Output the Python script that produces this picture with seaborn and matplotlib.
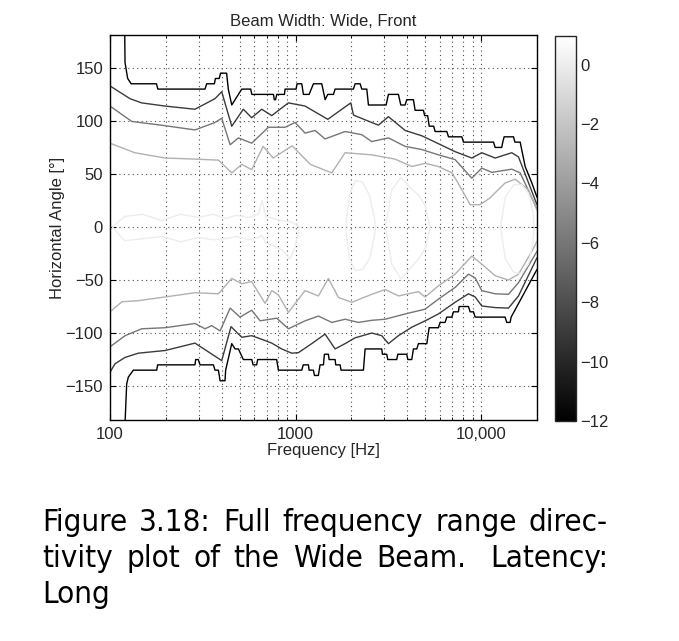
import numpy as np
import pandas as pd
import matplotlib
matplotlib.use("Agg")
import matplotlib.pyplot as plt
import matplotlib.ticker as mticker
from matplotlib.colors import Normalize
from matplotlib.cm import ScalarMappable
import seaborn as sns

# colour scale of the directivity map (dB re on-axis)
CMIN, CMAX = -12, 0.96
LEVELS = [-12, -9, -6, -3, 0]

# contour -12 dB (upper / lower branch), frequency in Hz, angle in degrees
UP12_F = [120, 120.5, 124.5, 130, 178, 181, 325, 332, 365, 370, 388, 394, 425, 434, 453, 472, 492, 513,
          573, 581, 760, 768, 780, 792, 871, 878, 1006, 1019, 1080, 1102, 1183, 1248, 1384, 1443, 1491,
          1600, 1633, 2050, 2094, 2228, 2274, 2420, 2470, 3077, 3164, 3584, 3689, 3891, 3974, 4316, 4407,
          4888, 4960, 5150, 5250, 5550, 5650, 6530, 6670, 7870, 8035, 11660, 11900, 12910, 13080, 13300,
          14940, 15200, 16230, 17270, 18760, 20000]
UP12_A = [185, 155, 140, 135, 135, 130, 130, 135, 135, 140, 140, 145, 145, 130, 115, 120, 125, 130,
          130, 125, 125, 120, 120, 125, 125, 130, 130, 135, 135, 125, 125, 135, 135, 120, 125,
          125, 130, 130, 135, 135, 130, 130, 115, 115, 125, 125, 115, 115, 120, 120, 110,
          110, 105, 105, 95, 95, 90, 90, 85, 85, 80, 80, 75, 75, 80, 85,
          85, 80, 80, 57, 41.5, 28]
LO12_F = [120.5, 123, 125.5, 133.6, 178.5, 180.6, 287, 289.6, 299, 305.6, 360.6, 368, 383.7, 388, 392,
          416.6, 420, 453, 472, 492, 523, 581, 590, 617, 625, 791, 808, 1080, 1100, 1173, 1183, 1248,
          1264, 1327, 1355, 1413, 1430, 1503, 1516, 1633, 1646, 1738, 1758, 2321, 2370, 2914, 2938,
          3099, 3140, 3510, 3556, 3974, 4024, 4228, 4316, 4500, 4595, 5097, 5245, 5888, 6010, 6393,
          6530, 6950, 7096, 7548, 7608, 8544, 8725, 9093, 9285, 13460, 13740, 14320, 14510, 20000]
LO12_A = [-185, -148, -141.6, -135, -135, -130, -130, -125, -125, -130, -130, -135, -135, -140, -145,
          -145, -135, -110, -115, -115, -125, -125, -130, -130, -125, -125, -135, -135, -130, -130, -135, -135,
          -140, -140, -130, -130, -120, -120, -125, -125, -130, -130, -135, -135, -115, -115, -120,
          -120, -125, -125, -120, -120, -125, -125, -115, -115, -110, -110, -95, -95, -90, -90,
          -85, -85, -80, -80, -75, -75, -80, -80, -85, -85, -90, -90, -85, -40]

# contour -9 dB
UP9_F = [100, 128, 148, 198, 287, 368, 400, 453, 523, 580, 657, 744, 915, 1125, 1491, 1984, 2051, 2574,
         2796, 3165, 3894, 4788, 5888, 7241, 8907, 10080, 11900, 14630, 15900, 20000]
UP9_A = [133, 121, 117, 114, 111, 121, 127.5, 95, 111, 103, 111, 105, 117, 114, 101.5, 117, 105.5, 98.5,
         96, 104, 91, 86, 78.5, 71, 65, 70, 65, 70, 66, 21]
LO9_F = [100, 106.4, 120.5, 142, 198, 287, 400, 449, 513, 580, 671, 744, 842, 953, 1036, 1222, 1442, 1633,
         1849, 2094, 2574, 2914, 3165, 3585, 4229, 4990, 5888, 7241, 8545, 9284, 10080, 11900, 14040,
         15900, 20000]
LO9_A = [-137, -129, -123, -119, -116.5, -109.5, -126, -94, -104, -102.5, -106.5, -109.5, -115, -119,
         -118.5, -110, -101, -115, -110, -104.5, -100, -102.5, -110, -102.5, -94.5, -88.5, -82, -71, -63,
         -66, -74.5, -76, -76.5, -65, -29]

# contour -6 dB
UP6_F = [100, 131, 198, 287, 368, 400, 444, 492, 580, 714, 878, 994, 1125, 1274, 1442, 1849, 2274, 2574,
         3165, 3894, 4788, 5888, 7241, 8907, 10080, 11420, 14630, 16230, 20000]
UP6_A = [114, 99.5, 95.5, 91.5, 98.5, 102.5, 77.5, 84, 79, 94, 94, 98.5, 88.5, 91, 83, 90, 87, 80.5,
         84, 76, 73, 68, 63.5, 46, 55.5, 51.5, 54.5, 51, 17]
LO6_F = [100, 120.5, 148, 198, 287, 325, 353, 392, 444, 502, 580, 644, 791, 915, 1125, 1328, 1567, 1849,
         2182, 2574, 3038, 3894, 4990, 5888, 7241, 8545, 9284, 10080, 11900, 14040, 15900, 20000]
LO6_A = [-113, -102.5, -96, -95, -91, -96, -93, -98, -76.5, -85, -78.5, -88.5, -86, -96, -88.5, -84,
         -90, -87, -90, -88, -87, -82, -77.5, -68, -57, -44.5, -48, -60, -63, -63.5, -52.5, -23]

# contour -3 dB
UP3_F = [100, 136, 198, 287, 384, 453, 513, 580, 669, 757, 958, 1202, 1567, 1849, 2574, 3440, 4229,
         4990, 5888, 6950, 7424, 8726, 9850, 11100, 13470, 15250, 18000, 20000]
UP3_A = [79, 70, 65, 64, 63, 51, 59, 54, 76, 65, 76.5, 59, 51, 70, 68, 64, 57,
         60, 57, 51, 43, 21, 21, 27, 41.5, 45, 35, 16]
LO3_F = [100, 116, 142, 198, 287, 384, 453, 513, 580, 685, 744, 808, 915, 1125, 1328, 1503, 1702, 2009,
         2574, 3038, 3585, 4595, 4990, 5888, 7241, 8907, 10080, 11900, 14040, 15900, 18760, 20000]
LO3_A = [-80, -70.5, -69.5, -66, -62, -63, -48.5, -53.5, -51.5, -72, -60, -64, -80.5, -60, -65, -48.5,
         -66.5, -71, -63.5, -59, -65, -61, -66, -55.5, -44.5, -27.5, -35, -46, -50, -44.5, -23, -13.5]

# closed 0 dB contours (frequency, upper edge, lower edge)
ZA_F = [103, 120, 150, 190, 240, 300, 360, 420, 480, 560, 630, 660, 690, 760, 850, 930, 990, 1050]
ZA_UP = [0, 10, 12, 6, 12, 9, 12, 8, 11, 9, 12, 25, 10, 8, 6, 5, 3, 0]
ZA_LO = [0, -13, -11, -9, -14, -10, -12, -11, -9, -12, -10, -8, -15, -18, -22, -30, -20, 0]
ZB_F = [1860, 1950, 2100, 2300, 2500, 2650, 2700]
ZB_UP = [0, 30, 44, 42, 30, 10, 0]
ZB_LO = [0, -30, -41, -40, -30, -10, 0]
ZC_F = [3050, 3300, 3700, 4100, 4600, 5000, 5300]
ZC_UP = [0, 35, 47, 38, 30, 20, 0]
ZC_LO = [0, -35, -49, -40, -30, -20, 0]
ZD_F = [12700, 13500, 15000, 16500, 18000, 19000, 19300]
ZD_UP = [0, 28, 40, 40, 32, 15, 0]
ZD_LO = [0, -30, -43, -44, -35, -15, 0]

CB_TICKS = [0, -2, -4, -6, -8, -10, -12]
X_TICKS = [100, 1000, 10000]
X_LABELS = ["100", "1000", "10,000"]
Y_TICKS = [-150, -100, -50, 0, 50, 100, 150]

# long table of all contour branches
branches = [
    ("up12", -12, UP12_F, UP12_A), ("lo12", -12, LO12_F, LO12_A),
    ("up9", -9, UP9_F, UP9_A), ("lo9", -9, LO9_F, LO9_A),
    ("up6", -6, UP6_F, UP6_A), ("lo6", -6, LO6_F, LO6_A),
    ("up3", -3, UP3_F, UP3_A), ("lo3", -3, LO3_F, LO3_A),
]
for name, f, up, lo in [("za", ZA_F, ZA_UP, ZA_LO), ("zb", ZB_F, ZB_UP, ZB_LO),
                        ("zc", ZC_F, ZC_UP, ZC_LO), ("zd", ZD_F, ZD_UP, ZD_LO)]:
    branches.append((name, 0, f + f[::-1], up + lo[::-1]))

df = pd.concat([pd.DataFrame({"freq": f, "angle": a, "level": str(lev), "branch": name})
                for name, lev, f, a in branches], ignore_index=True)

sns.set_style("ticks")
plt.rcParams["font.family"] = ["Liberation Sans", "DejaVu Sans"]

cmap = plt.get_cmap("gray")
norm = Normalize(CMIN, CMAX)
palette = {str(l): cmap(norm(l)) for l in LEVELS}

fig = plt.figure(figsize=(6.79, 6.41), dpi=100)
ax = fig.add_axes([110 / 679, 1 - 420 / 641, 427 / 679, 385 / 641])

sns.lineplot(data=df, x="freq", y="angle", hue="level", units="branch", estimator=None, sort=False,
             palette=palette, hue_order=[str(l) for l in LEVELS], legend=False, linewidth=1.0, ax=ax)

FS = 12
ax.set_xscale("log")
ax.set_xlim(100, 20000)
ax.set_ylim(-182, 181)
ax.xaxis.set_major_locator(mticker.FixedLocator(X_TICKS))
ax.xaxis.set_major_formatter(mticker.FixedFormatter(X_LABELS))
ax.xaxis.set_minor_locator(mticker.LogLocator(base=10, subs=np.arange(2, 10)))
ax.xaxis.set_minor_formatter(mticker.NullFormatter())
ax.set_yticks(Y_TICKS)
grid_kw = dict(linestyle=(0, (1, 3)), color="0.3", linewidth=0.8)
ax.grid(True, which="both", axis="x", **grid_kw)
ax.grid(True, which="major", axis="y", **grid_kw)
ax.tick_params(which="both", direction="in", top=True, right=True, labelsize=FS, color="black")
ax.tick_params(which="major", length=4, pad=5)
ax.tick_params(which="minor", length=2)
for s in ax.spines.values():
    s.set_color("black")
    s.set_linewidth(1.0)
ax.set_xlabel("Frequency [Hz]", fontsize=FS, labelpad=1)
ax.set_ylabel("Horizontal Angle [°]", fontsize=FS, labelpad=0.5)
ax.set_title("Beam Width: Wide, Front", fontsize=FS, pad=6.5)

cax = fig.add_axes([555 / 679, 1 - 421 / 641, 21 / 679, 385 / 641])
cb = fig.colorbar(ScalarMappable(norm=norm, cmap=cmap), cax=cax)
cb.set_ticks(CB_TICKS)
cb.outline.set_linewidth(1.0)
cax.tick_params(direction="in", left=True, right=True, length=3, labelsize=FS, pad=3)

# justified caption below the figure
W, H = 679, 641
renderer = fig.canvas.get_renderer()
cap_kw = dict(fontsize=22.5, family="DejaVu Sans", fontstretch="condensed", va="baseline", color="black")


def caption_line(words, y, x0=42, x1=608, weights=None, justify=True):
    texts = [fig.text(0, 1 - y / H, w, **cap_kw) for w in words]
    widths = [t.get_window_extent(renderer).width for t in texts]
    weights = weights or [1] * (len(words) - 1)
    unit = ((x1 - x0) - sum(widths)) / sum(weights) if justify else 0
    x = x0
    for i, (t, w) in enumerate(zip(texts, widths)):
        t.set_x(x / W)
        if i < len(weights):
            x += w + unit * weights[i]


caption_line(["Figure", "3.18:", "Full", "frequency", "range", "direc-"], 531)
caption_line(["tivity", "plot", "of", "the", "Wide", "Beam.", "Latency:"], 567,
             weights=[1, 1, 1, 1, 1, 1.8])
caption_line(["Long"], 603, justify=False)

fig.savefig("out.png", dpi=100)
